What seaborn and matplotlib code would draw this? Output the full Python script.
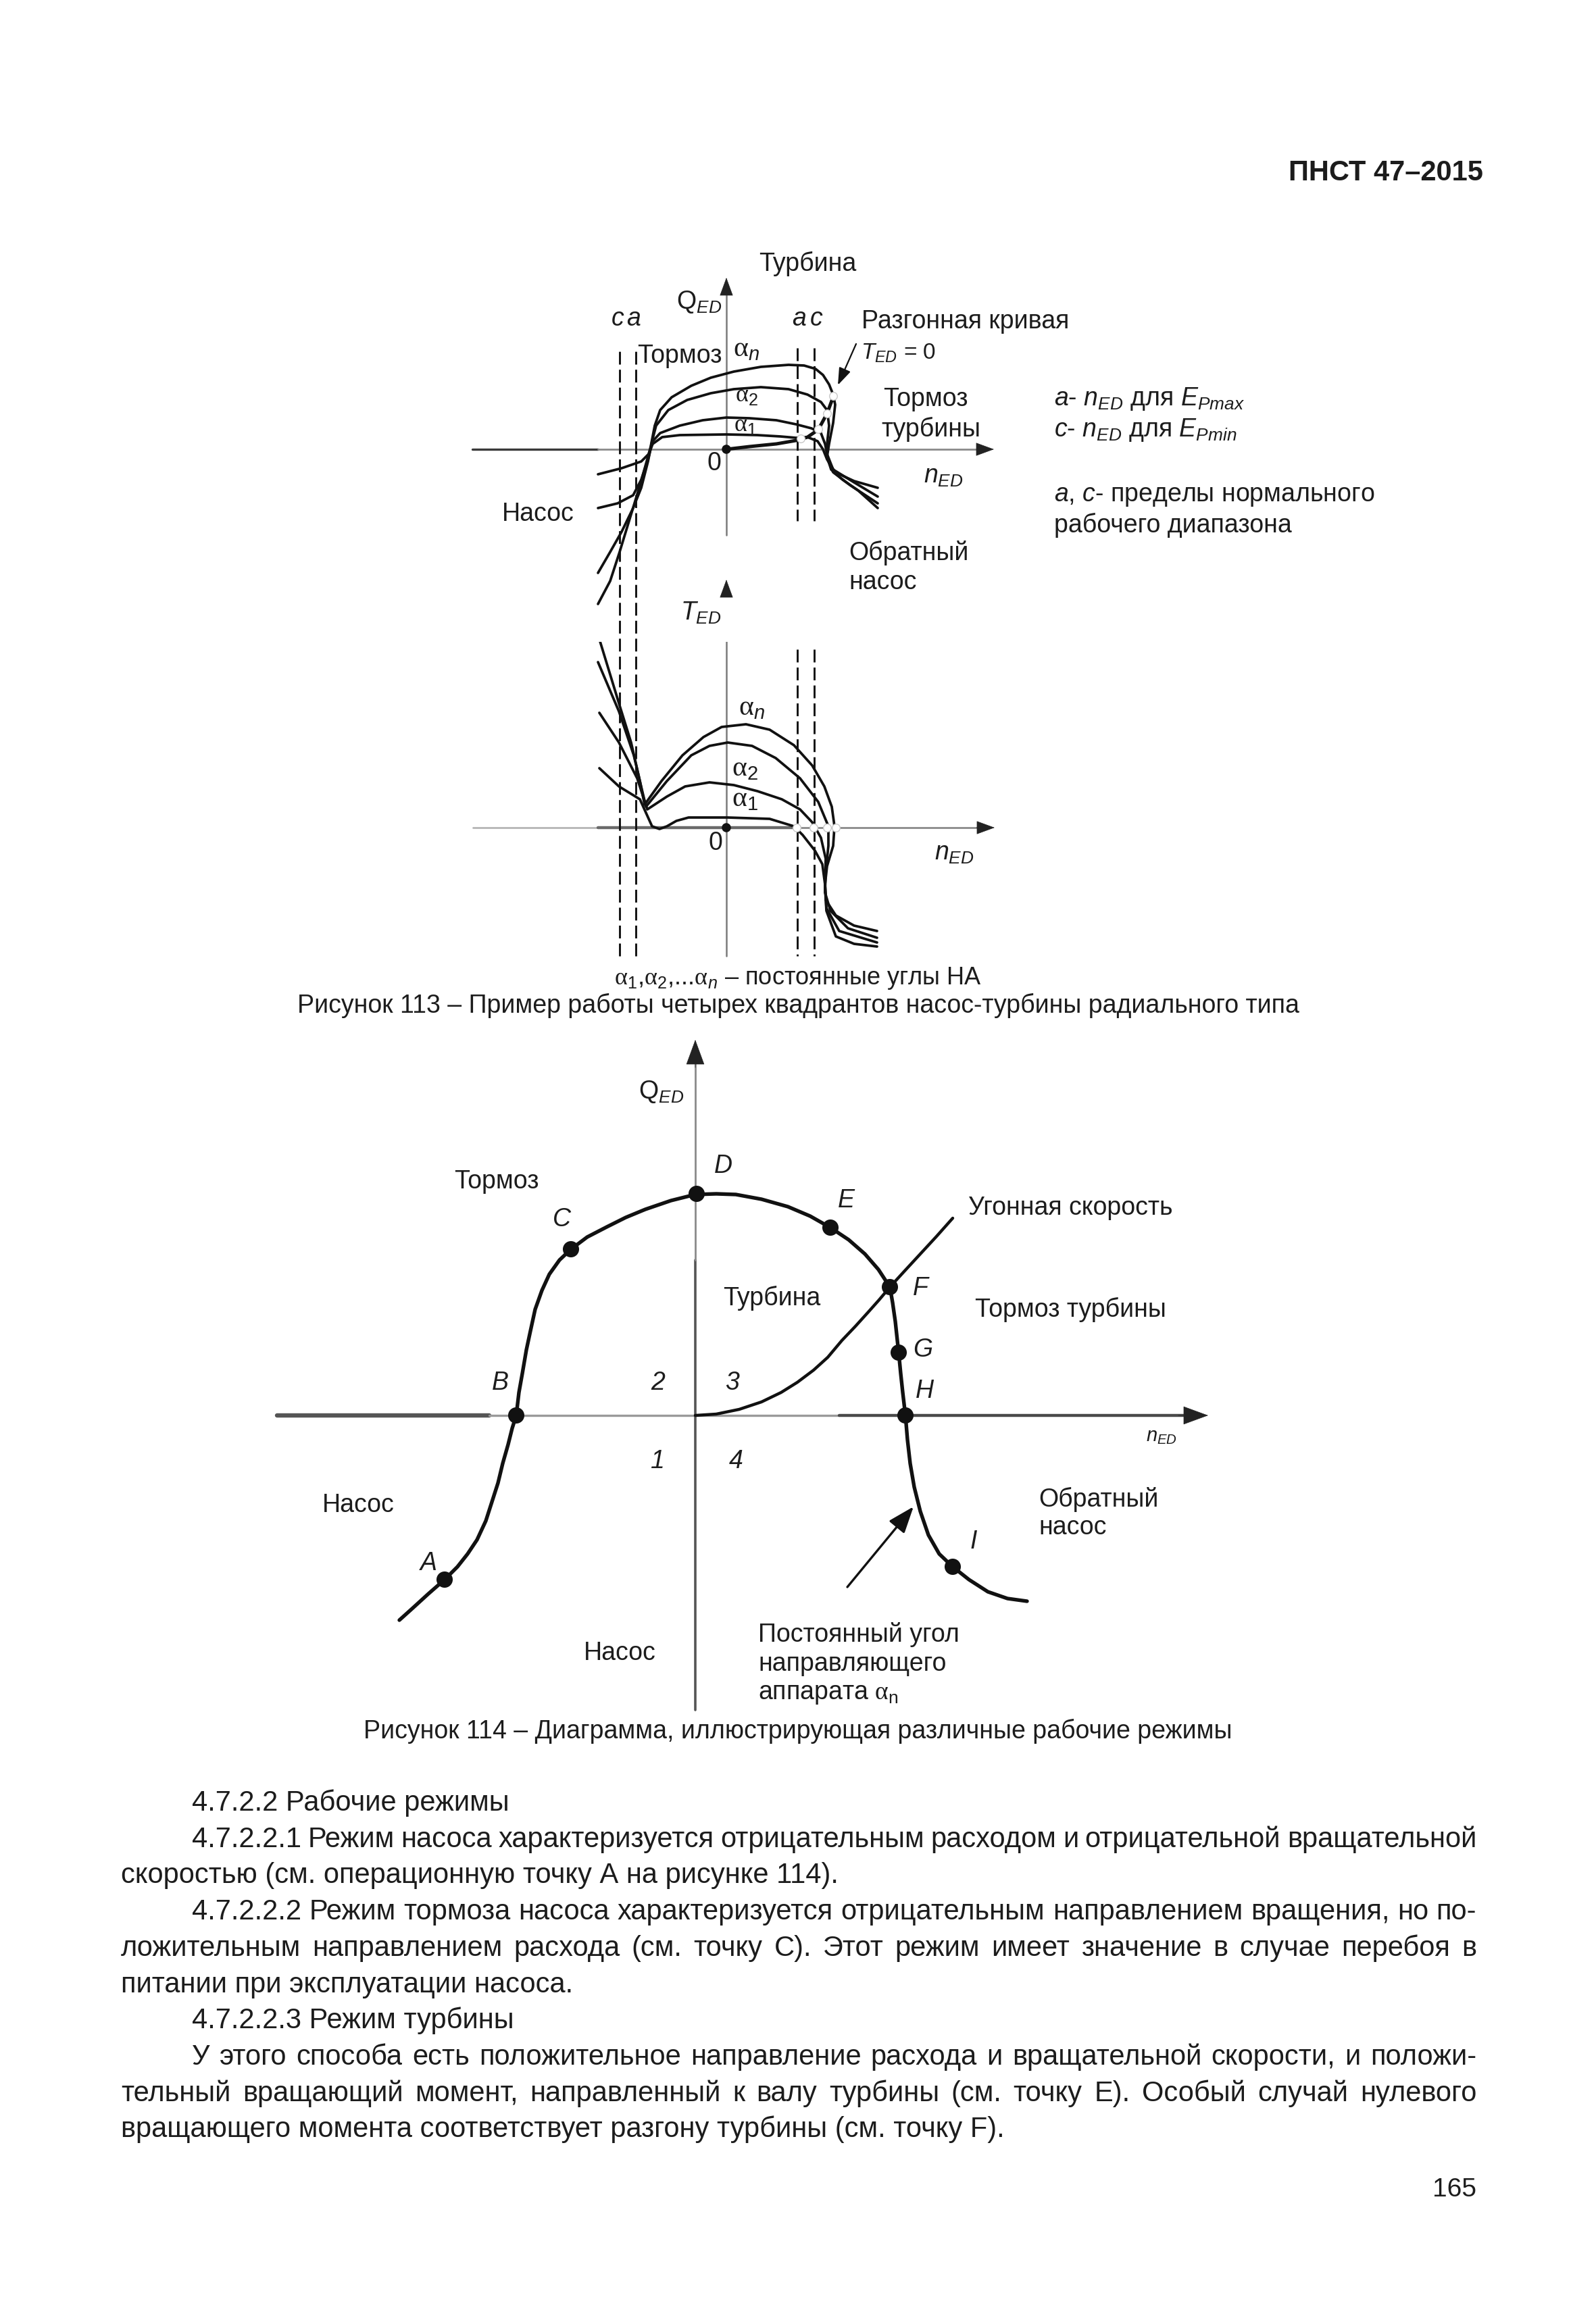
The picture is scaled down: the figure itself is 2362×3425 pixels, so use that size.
import matplotlib
matplotlib.use("Agg")
import matplotlib.pyplot as plt
import seaborn as sns
from matplotlib.font_manager import FontProperties

sns.set_theme(style="white")
plt.rcParams["font.family"] = ["Liberation Sans", "DejaVu Sans"]
plt.rcParams["mathtext.fontset"] = "custom"
plt.rcParams["mathtext.rm"] = "Liberation Sans"
plt.rcParams["mathtext.it"] = "Liberation Sans:italic"
plt.rcParams["mathtext.bf"] = "Liberation Sans:bold"
plt.rcParams["mathtext.sf"] = "Liberation Serif"

# ------------------------------------------------------------------ data
# Figure 113 (top): Q_ED against n_ED for four guide-vane openings
q1_n = [-190, -172, -158, -144, -129, -118, -112, -106, -98, -81, -52, -23, 11, 51, 92, 115, 132, 143, 152, 158, 161, 158, 152, 149, 155, 172, 195, 224]
q1_q = [-229, -195, -152, -106, -57, -18, 4, 35, 58, 77, 94, 106, 115, 122, 125, 124, 119, 110, 96, 81, 66, 39, 8, -11, -30, -45, -61, -87]
q2_n = [-190, -172, -155, -138, -126, -116, -110, -104, -86, -58, -23, 11, 51, 92, 120, 140, 149, 152, 149, 148, 158, 183, 224]
q2_q = [-183, -152, -122, -87, -57, -18, 12, 35, 58, 73, 83, 89, 92, 89, 81, 70, 58, 35, 8, -11, -34, -53, -80]
q3_n = [-190, -161, -138, -126, -116, -109, -98, -69, -35, 0, 34, 74, 103, 126, 140, 146, 149, 158, 189, 224]
q3_q = [-87, -80, -68, -45, -15, 12, 24, 35, 43, 47, 46, 43, 37, 31, 24, 8, -7, -30, -49, -70]
q4_n = [-190, -155, -126, -115, -109, -95, -69, 0, 46, 80, 103, 120, 135, 143, 149, 161, 189, 224]
q4_q = [-37, -28, -18, -7, 8, 18, 21, 22, 21, 19, 17, 18, 12, 0, -15, -34, -47, -57]
# runaway curve (T_ED = 0) and its crossings
qr_n = [0, 34, 74, 103, 120, 136, 149, 159]
qr_q = [0, 4, 8, 13, 18, 29, 53, 80]
qr_pts_n = [110, 136, 149, 158]
qr_pts_q = [16, 30, 53, 79]
# limits of normal operating range: c, a (left), a, c (right)
lim_n = [-158, -134, 105, 130]
lim_lbl = ["c", "a", "a", "c"]

# Figure 113 (bottom): T_ED against n_ED
t1_n = [-188, -159, -141, -128, -121, -96, -65, -34, -7, 29, 64, 100, 127, 145, 156, 160, 158, 149, 146, 147, 162, 189, 223]
t1_t = [279, 184, 126, 69, 34, 69, 107, 134, 149, 153, 145, 122, 92, 61, 31, 2, -27, -57, -84, -107, -130, -145, -153]
t2_n = [-190, -159, -137, -119, -88, -52, -25, 2, 38, 73, 109, 136, 151, 151, 147, 146, 154, 180, 223]
t2_t = [245, 172, 107, 31, 69, 107, 121, 126, 121, 103, 73, 38, 2, -27, -65, -96, -123, -149, -163]
t3_n = [-188, -159, -132, -117, -88, -61, -25, 11, 46, 82, 109, 127, 140, 147, 146, 148, 167, 223]
t3_t = [170, 126, 73, 27, 46, 61, 67, 63, 54, 42, 27, 8, -15, -46, -84, -119, -153, -170]
t4_n = [-188, -159, -128, -110, -99, -88, -74, -56, 2, 64, 100, 113, 131, 142, 146, 148, 162, 189, 223]
t4_t = [88, 61, 42, 2, -2, 2, 10, 15, 15, 13, 2, -11, -34, -54, -84, -123, -161, -172, -176]
t_pts_n = [104, 129, 149, 162]
t_pts_t = [0, 0, 0, 0]

# Figure 114: operating modes (constant guide-vane angle curve)
main_n = [-438, -418, -395, -371, -352, -337, -323, -310, -301, -292, -285, -277, -271, -265,
          -261, -256, -250, -244, -237, -227, -216, -201, -184, -160, -131, -103, -74, -36,
          0, 31, 60, 98, 137, 170, 200, 227, 251, 271, 288, 292, 296, 299, 301, 304, 307,
          311, 314, 318, 324, 333, 345, 361, 381, 405, 433, 462, 491]
main_q = [-303, -285, -264, -243, -224, -205, -184, -156, -128, -100, -71, -43, -19, 0,
          34, 62, 97, 125, 157, 185, 209, 230, 246, 264, 279, 293, 305, 318,
          327, 328, 327, 320, 309, 295, 278, 260, 239, 216, 190, 167, 139, 111, 93, 62, 34,
          0, -36, -71, -106, -142, -177, -205, -224, -243, -261, -271, -275]
# runaway speed curve
run_n = [0, 31, 65, 98, 127, 151, 175, 196, 217, 237, 256, 272, 288, 309, 333, 357, 381]
run_q = [0, 2, 9, 20, 34, 49, 67, 86, 111, 132, 153, 171, 190, 213, 239, 265, 292]
pt_lbl = ["A", "B", "C", "D", "E", "F", "G", "H", "I"]
pt_n = [-371, -265, -184, 2, 200, 288, 301, 311, 381]
pt_q = [-243, 0, 246, 328, 278, 190, 93, 0, -224]

body_lines = [
    ("4.7.2.2 Рабочие режимы", True, False),
    ("4.7.2.2.1 Режим насоса характеризуется отрицательным расходом и отрицательной вращательной", True, True),
    ("скоростью (см. операционную точку А на рисунке 114).", False, False),
    ("4.7.2.2.2 Режим тормоза насоса характеризуется отрицательным направлением вращения, но по-", True, True),
    ("ложительным направлением расхода (см. точку С). Этот режим имеет значение в случае перебоя в", False, True),
    ("питании при эксплуатации насоса.", False, False),
    ("4.7.2.2.3 Режим турбины", True, False),
    ("У этого способа есть положительное направление расхода и вращательной скорости, и положи-", True, True),
    ("тельный вращающий момент, направленный к валу турбины (см. точку Е). Особый случай нулевого", False, True),
    ("вращающего момента соответствует разгону турбины (см. точку F).", False, False),
]

# ------------------------------------------------------------------ figure
W, H, DPI = 2362, 3425, 100
fig = plt.figure(figsize=(W / DPI, H / DPI), dpi=DPI, facecolor="white")
TXT = "#1c1c1c"
INK = "#111111"
FS = 27
AFS = 30
ALPHA = r"\mathsf{\alpha}"


def add_axes_px(x0, y0, x1, y1, ox, oy):
    ax = fig.add_axes([x0 / W, 1 - y1 / H, (x1 - x0) / W, (y1 - y0) / H])
    ax.set_facecolor("none")
    return ax, (x0 - ox, x1 - ox, oy - y1, oy - y0)


def finish(ax, lims):
    ax.set_xlim(lims[0], lims[1])
    ax.set_ylim(lims[2], lims[3])
    ax.axis("off")


def ftxt(x, y, s, **kw):
    kw.setdefault("fontsize", FS)
    kw.setdefault("color", TXT)
    kw.setdefault("ha", "center")
    kw.setdefault("va", "center")
    fig.text(x / W, 1 - y / H, s, **kw)


def curve(ax, xs, ys, lw, color=INK, z=3):
    sns.lineplot(x=xs, y=ys, ax=ax, sort=False, estimator=None, color=color,
                 linewidth=lw, zorder=z, solid_joinstyle="round", solid_capstyle="round")


def head(ax, tail, tip, color, ms, hl=0.6, hw=0.22):
    ax.annotate("", xy=tip, xytext=tail,
                arrowprops=dict(arrowstyle=f"-|>,head_length={hl},head_width={hw}",
                                color=color, lw=0.5, mutation_scale=ms,
                                shrinkA=0, shrinkB=0), annotation_clip=False)


DASH = (0, (6.5, 2.6))

# ---------------- Figure 113 top (Q_ED)
axq, limq = add_axes_px(600, 330, 2200, 950, 1075, 665)
axq.plot([-376, -190], [0, 0], color="#3a3a3a", lw=2.4, zorder=1)
axq.plot([-190, 385], [0, 0], color="#8a8a8a", lw=2.0, zorder=1)
head(axq, (370, 0), (396, 0), "#222222", 30)
axq.plot([0, 0], [-127, 240], color="#7a7a7a", lw=1.8, zorder=1)
head(axq, (0, 230), (0, 254), "#222222", 30)
for xn in lim_n[2:]:
    axq.plot([xn, xn], [150, -106], color=INK, lw=2.1, linestyle=DASH, zorder=2)
for xs, ys in [(q1_n, q1_q), (q2_n, q2_q), (q3_n, q3_q), (q4_n, q4_q)]:
    curve(axq, xs, ys, 2.7)
curve(axq, qr_n, qr_q, 3.6)
sns.scatterplot(x=qr_pts_n, y=qr_pts_q, ax=axq, s=70, color="white",
                edgecolor="#c8c8c8", linewidth=1.0, zorder=6)
sns.scatterplot(x=[0], y=[0], ax=axq, s=95, color=INK, edgecolor="none", zorder=7)
axq.annotate("", xy=(165, 95), xytext=(192, 156),
             arrowprops=dict(arrowstyle="-|>,head_length=0.7,head_width=0.25", color=INK,
                             lw=1.6, mutation_scale=22, shrinkA=0, shrinkB=0))
finish(axq, limq)

# ---------------- Figure 113 bottom (T_ED)
axt, limt = add_axes_px(600, 950, 2200, 1420, 1075, 1225)
axt.plot([-375, -190], [0, 0], color="#b5b5b5", lw=2.0, zorder=1)
axt.plot([-190, 104], [0, 0], color="#6a6a6a", lw=3.2, zorder=1)
axt.plot([104, 385], [0, 0], color="#8a8a8a", lw=2.0, zorder=1)
head(axt, (370, 0), (397, 0), "#222222", 30)
axt.plot([0, 0], [-190, 350], color="#7a7a7a", lw=1.8, zorder=1)
head(axt, (0, 343), (0, 367), "#222222", 30)
for xn in lim_n[:2]:
    axt.plot([xn, xn], [-190, 710], color=INK, lw=2.1, linestyle=DASH, zorder=2, clip_on=False)
for xn in lim_n[2:]:
    axt.plot([xn, xn], [264, -190], color=INK, lw=2.1, linestyle=DASH, zorder=2)
for xs, ys in [(t1_n, t1_t), (t2_n, t2_t), (t3_n, t3_t), (t4_n, t4_t)]:
    curve(axt, xs, ys, 2.7)
sns.scatterplot(x=t_pts_n, y=t_pts_t, ax=axt, s=70, color="white",
                edgecolor="#c8c8c8", linewidth=1.0, zorder=6)
sns.scatterplot(x=[0], y=[0], ax=axt, s=95, color=INK, edgecolor="none", zorder=7)
finish(axt, limt)

# labels Figure 113
ftxt(1195, 390, "Турбина")
ftxt(1035, 447, r"Q$_{ED}$")
for xn, lb in zip(lim_n, lim_lbl):
    ftxt(1075 + xn + (-3 if xn < 0 else 3), 472, lb, style="italic")
ftxt(1006, 527, "Тормоз")
ftxt(1105, 516, rf"${ALPHA}_n$", fontsize=AFS)
ftxt(1105, 585, rf"${ALPHA}_2$", fontsize=26)
ftxt(1103, 629, rf"${ALPHA}_1$", fontsize=26)
ftxt(1275, 476, "Разгонная кривая", ha="left")
ftxt(1274, 523, r"$T_{ED}$ = 0", ha="left", fontsize=24)
ftxt(1307, 591, "Тормоз", ha="left")
ftxt(1304, 635, "турбины", ha="left")
ftxt(1057, 686, "0")
ftxt(1396, 705, r"$n_{ED}$")
ftxt(796, 761, "Насос")
ftxt(1256, 818, "Обратный", ha="left")
ftxt(1256, 862, "насос", ha="left")
ftxt(1560, 590, r"$a$- $n_{ED}$ для $E_{Pmax}$", ha="left")
ftxt(1560, 636, r"$c$- $n_{ED}$ для $E_{Pmin}$", ha="left")
ftxt(1560, 734, r"$a$, $c$- пределы нормального", ha="left")
ftxt(1560, 777, "рабочего диапазона", ha="left")
ftxt(1037, 907, r"$T_{ED}$")
ftxt(1113, 1047, rf"${ALPHA}_n$", fontsize=AFS)
ftxt(1102, 1137, rf"${ALPHA}_2$", fontsize=AFS)
ftxt(1102, 1182, rf"${ALPHA}_1$", fontsize=AFS)
ftxt(1059, 1248, "0")
ftxt(1412, 1263, r"$n_{ED}$")
ftxt(1181, 1457, rf"${ALPHA}_1$,${ALPHA}_2$,...${ALPHA}_n$ – постоянные углы НА",
     va="baseline", fontsize=26)
ftxt(1181, 1499, "Рисунок 113 – Пример работы четырех квадрантов насос-турбины радиального типа",
     va="baseline", fontsize=27)

# ---------------- Figure 114
axm, limm = add_axes_px(380, 1510, 1900, 2545, 1029, 2095)
axm.plot([-619, -305], [0, 0], color="#555555", lw=4.6, zorder=1)
axm.plot([-305, 213], [0, 0], color="#9a9a9a", lw=2.4, zorder=1)
axm.plot([213, 730], [0, 0], color="#4a4a4a", lw=3.2, zorder=1)
head(axm, (715, 0), (759, 0), "#222222", 42)
axm.plot([0, 0], [-436, 230], color="#555555", lw=2.6, zorder=1)
axm.plot([0, 0], [230, 530], color="#8a8a8a", lw=2.0, zorder=1)
head(axm, (0, 515), (0, 556), "#222222", 42)
curve(axm, main_n, main_q, 3.9)
curve(axm, run_n, run_q, 3.2)
sns.scatterplot(x=pt_n, y=pt_q, ax=axm, s=300, color=INK, edgecolor="none", zorder=6)
axm.annotate("", xy=(323, -135), xytext=(225, -254),
             arrowprops=dict(arrowstyle="-|>,head_length=0.8,head_width=0.3", color=INK,
                             lw=2.4, mutation_scale=30, shrinkA=0, shrinkB=0))
finish(axm, limm)

pt_txt = [(634, 2314), (740, 2047), (831, 1805), (1070, 1726), (1252, 1777),
          (1362, 1907), (1366, 1998), (1368, 2059), (1441, 2282)]
for lb, (x, y) in zip(pt_lbl, pt_txt):
    ftxt(x, y, lb, style="italic")
ftxt(979, 1616, r"Q$_{ED}$")
ftxt(735, 1749, "Тормоз")
ftxt(1433, 1788, "Угонная скорость", ha="left")
ftxt(1142, 1921, "Турбина")
ftxt(1443, 1938, "Тормоз турбины", ha="left")
ftxt(974, 2047, "2", style="italic")
ftxt(1084, 2047, "3", style="italic")
ftxt(972, 2163, "1", style="italic")
ftxt(1089, 2163, "4", style="italic")
ftxt(1719, 2126, r"$n_{ED}$", fontsize=21)
ftxt(477, 2228, "Насос", ha="left")
ftxt(1537, 2219, "Обратный", ha="left")
ftxt(1537, 2261, "насос", ha="left")
ftxt(864, 2447, "Насос", ha="left")
ftxt(1122, 2419, "Постоянный угол", ha="left")
ftxt(1122, 2463, "направляющего", ha="left")
ftxt(1122, 2507, rf"аппарата ${ALPHA}_\mathrm{{n}}$", ha="left")
ftxt(1181, 2573, "Рисунок 114 – Диаграмма, иллюстрирующая различные рабочие режимы",
     va="baseline", fontsize=27)

# ---------------- page text
ftxt(2195, 267, "ПНСТ 47–2015", ha="right", va="baseline", fontsize=30, weight="bold")
ftxt(2185, 3251, "165", ha="right", va="baseline", fontsize=28)

BFS = 30
renderer = fig.canvas.get_renderer()
prop = FontProperties(family=["Liberation Sans", "DejaVu Sans"], size=BFS)
LEFT, INDENT, RIGHT = 179, 284, 2185
for k, (line, indent, just) in enumerate(body_lines):
    yb = 2680 + k * 53.7
    x0 = INDENT if indent else LEFT
    if not just:
        ftxt(x0, yb, line, ha="left", va="baseline", fontsize=BFS)
        continue
    words = line.split(" ")
    widths = [renderer.get_text_width_height_descent(w, prop, ismath=False)[0] for w in words]
    gap = (RIGHT - x0 - sum(widths)) / (len(words) - 1)
    x = x0
    for w, wd in zip(words, widths):
        ftxt(x, yb, w, ha="left", va="baseline", fontsize=BFS)
        x += wd + gap

fig.savefig("out.png", dpi=DPI, facecolor="white")
